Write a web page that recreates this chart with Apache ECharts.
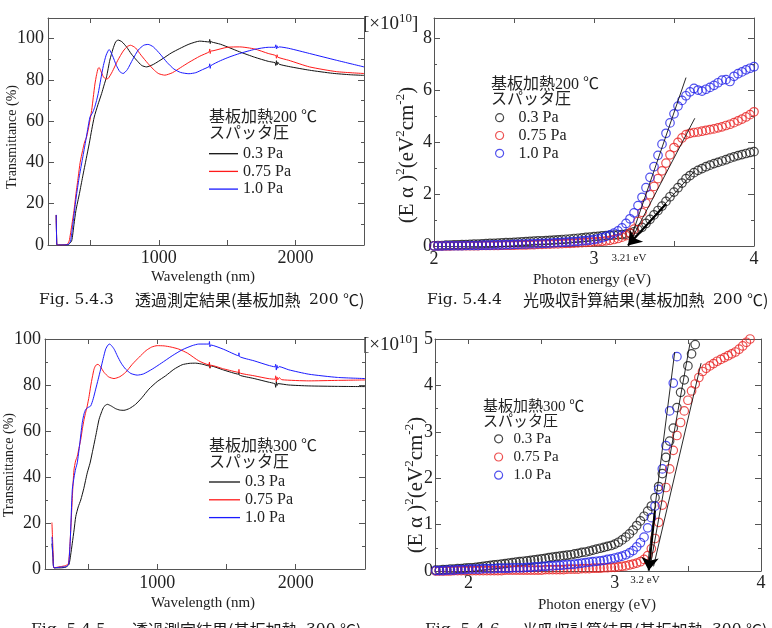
<!DOCTYPE html>
<html><head><meta charset="utf-8">
<script src="https://cdn.jsdelivr.net/npm/echarts@6/dist/echarts.min.js"></script>
<style>html,body{margin:0;padding:0;background:#fff}#c{width:772px;height:628px}</style>
</head><body><div id="c"></div>
<script>
// ---------------- DATA ----------------
// Fig 5.4.3 : transmittance, substrate 200 C  [wavelength nm, T %]
const t200_03 = [[250,14.5],[254,0.5],[258,0],[300,0],[340,0.3],[363,2],[380,10],[394,16.7],[420,25],[443,33],[470,42],[491,49],[510,56],[528,62],[555,68],[582,73.4],[600,77.5],[618,81.5],[642,89.6],[665,95],[685,98.5],[703,99.3],[730,98.5],[764,96],[800,92.5],[837,89.6],[875,87],[910,86.3],[960,87.5],[1031,90.4],[1090,93],[1153,95.2],[1220,97.3],[1299,98.8],[1368,98.4],[1372,99.6],[1376,97.6],[1380,98.8],[1385,98.4],[1450,97.3],[1520,95.5],[1591,93.6],[1700,91],[1800,89],[1850,88.3],[1855,87],[1860,89.3],[1865,87.3],[1870,88.6],[1880,87.6],[1950,86.5],[2102,84.7],[2270,83.2],[2400,82.5],[2500,82.2]];
const t200_075 = [[250,14.5],[254,0.5],[258,0],[300,0],[330,0.3],[345,2],[365,10],[380,16.7],[395,25],[411,33],[425,40],[443,45.8],[458,50],[472,52.3],[490,58],[509,65.2],[521,71.6],[533,78],[545,82.5],[556,85.5],[564,86],[575,84.5],[595,81.5],[612,80.5],[630,80.7],[660,84],[700,89.5],[740,94],[770,96.2],[793,96.8],[830,95.5],[870,92],[920,88],[970,84.5],[1000,83],[1044,82.3],[1100,83.5],[1160,86],[1220,88.5],[1300,91.5],[1368,93.6],[1372,95],[1376,92.8],[1380,94],[1396,94.1],[1500,95.8],[1591,96],[1700,95],[1800,92.8],[1855,91.8],[1860,90.5],[1865,92.2],[1870,91],[1950,89.5],[2102,86.3],[2300,84],[2500,83.1]];
const t200_10 = [[250,14.6],[254,0.5],[258,0],[300,0],[340,0.3],[355,2],[370,9],[384,16.7],[400,25],[418,32.9],[440,41],[462,49.1],[480,56],[497,62],[515,64],[530,66.5],[545,70],[557,73.4],[575,80],[595,87],[615,92],[637,94.7],[660,92],[690,87],[715,84],[739,83.1],[770,85],[810,90],[850,94.5],[890,96.8],[922,97.2],[960,96],[1010,92.5],[1060,88.5],[1110,85.3],[1160,83.6],[1220,83],[1270,83.5],[1320,85],[1368,86.5],[1372,87.8],[1376,85.6],[1380,86.9],[1450,89.3],[1520,91.2],[1591,92.8],[1700,94.8],[1800,95.8],[1850,95.8],[1855,97],[1860,95],[1865,96.5],[1870,95.5],[1880,96],[1950,95.3],[2102,92.8],[2300,89.5],[2500,86.3]];

// Fig 5.4.5 : transmittance, substrate 300 C
const t300_03 = [[240,11],[248,5],[255,0.5],[300,0.5],[340,0.8],[363,2],[375,6],[387,11.2],[400,17],[412,22.8],[430,27],[448,30],[470,35],[495,41.8],[515,46],[531,50.5],[556,57.8],[580,65],[600,68.5],[616,70.6],[640,71.6],[670,70.8],[700,69.7],[730,69.1],[760,69],[800,69.8],[844,71.6],[890,74.5],[940,78.2],[1000,81.5],[1061,84],[1120,86.8],[1180,88.8],[1230,89.4],[1277,89.5],[1330,89],[1373,88.3],[1377,89.5],[1381,87.3],[1385,88.3],[1480,86.5],[1588,84.7],[1590,85.6],[1593,84.3],[1700,82.8],[1800,81.3],[1850,80.5],[1855,79],[1860,81.5],[1865,79.8],[1870,80.6],[1950,80],[2094,79.6],[2300,79.4],[2500,79.3]];
const t300_075 = [[240,20.2],[248,8],[255,0.5],[300,1],[340,1.5],[360,2.5],[376,17],[388,32],[399,43],[411,47],[423,49],[435,52.5],[448,56.3],[460,61],[472,65],[484,68.2],[495,70.9],[508,75],[520,79.6],[532,83.5],[544,86.9],[556,88.5],[572,89],[590,88],[616,85.5],[650,83.5],[688,82.8],[730,83.6],[772,85.5],[820,89],[868,92],[920,95],[960,96.5],[1000,97.1],[1050,97],[1100,96.5],[1156,95.6],[1220,93.8],[1300,90.5],[1373,88.8],[1377,90],[1381,87.5],[1385,88.6],[1480,87],[1588,85.5],[1590,86.8],[1593,85.3],[1700,84],[1800,82.8],[1850,82.5],[1855,84],[1860,81.5],[1865,83.5],[1870,82.2],[1880,83.2],[1900,82.3],[2094,81.8],[2300,82],[2500,82.2]];
const t300_10 = [[240,14],[248,5],[255,0.5],[300,0.8],[340,1],[360,2],[372,12],[387,34.5],[400,40],[411,43.5],[423,46.2],[440,54],[459,63.6],[472,67.5],[484,69.4],[500,70.2],[520,70.9],[538,74],[556,78.2],[574,82.5],[592,86.9],[610,91.5],[628,95.6],[645,97.4],[657,97.8],[672,97],[690,95.5],[712,92.7],[740,89.5],[772,86.9],[810,85],[856,84.3],[900,84.8],[964,86.9],[1030,89.5],[1108,92.7],[1180,95.3],[1252,97.1],[1300,97.8],[1373,97.8],[1377,98.9],[1381,96.6],[1385,97.4],[1480,95.5],[1588,92.7],[1590,94],[1593,92.4],[1700,90.5],[1800,88.6],[1850,87.9],[1855,89],[1860,86.5],[1865,88.5],[1870,87.3],[1880,88],[1950,86.6],[2094,84.7],[2300,83.3],[2500,82.8]];

// Fig 5.4.4 : (E alpha)^2 [x1e10], substrate 200 C
const e200 = [2,2.025,2.05,2.075,2.1,2.125,2.15,2.175,2.2,2.225,2.25,2.275,2.3,2.325,2.35,2.375,2.4,2.425,2.45,2.475,2.5,2.525,2.55,2.575,2.6,2.625,2.65,2.675,2.7,2.725,2.75,2.775,2.8,2.825,2.85,2.875,2.9,2.925,2.95,2.975,3,3.025,3.05,3.075,3.1,3.125,3.15,3.175,3.2,3.225,3.25,3.275,3.3,3.325,3.35,3.375,3.4,3.425,3.45,3.475,3.5,3.525,3.55,3.575,3.6,3.625,3.65,3.675,3.7,3.725,3.75,3.775,3.8,3.825,3.85,3.875,3.9,3.925,3.95,3.975,4];
const a200_03 = [0.01,0.02,0.02,0.03,0.03,0.04,0.04,0.05,0.05,0.06,0.07,0.07,0.08,0.09,0.1,0.1,0.11,0.12,0.13,0.13,0.14,0.15,0.16,0.17,0.18,0.19,0.2,0.2,0.21,0.22,0.23,0.24,0.25,0.26,0.27,0.29,0.3,0.31,0.33,0.34,0.36,0.37,0.39,0.4,0.41,0.42,0.43,0.44,0.46,0.5,0.55,0.63,0.72,0.87,1.03,1.2,1.37,1.54,1.72,1.9,2.08,2.25,2.43,2.6,2.72,2.83,2.92,2.99,3.06,3.12,3.18,3.23,3.28,3.33,3.39,3.44,3.49,3.53,3.57,3.61,3.64];
const a200_075 = [0,0,0,0,0,0.01,0.01,0.01,0.01,0.01,0.01,0.01,0.02,0.02,0.02,0.02,0.02,0.03,0.03,0.03,0.03,0.04,0.04,0.04,0.05,0.05,0.06,0.06,0.07,0.07,0.08,0.08,0.09,0.1,0.1,0.11,0.12,0.13,0.14,0.15,0.16,0.17,0.18,0.2,0.22,0.25,0.29,0.34,0.4,0.5,0.65,0.95,1.3,1.65,1.98,2.3,2.6,2.9,3.2,3.52,3.8,4.0,4.17,4.3,4.35,4.38,4.4,4.43,4.46,4.49,4.52,4.56,4.6,4.65,4.7,4.76,4.83,4.9,4.98,5.07,5.18];
const a200_10 = [0,0,0,0.01,0.01,0.01,0.01,0.01,0.02,0.02,0.02,0.02,0.03,0.03,0.03,0.04,0.04,0.04,0.05,0.05,0.06,0.06,0.07,0.07,0.08,0.08,0.09,0.1,0.1,0.11,0.12,0.13,0.14,0.15,0.16,0.17,0.18,0.2,0.21,0.23,0.25,0.28,0.32,0.37,0.43,0.5,0.58,0.7,0.87,1.05,1.28,1.56,1.88,2.25,2.65,3.06,3.5,3.93,4.35,4.75,5.1,5.4,5.62,5.8,5.95,6.08,6.02,5.98,6.05,6.12,6.2,6.3,6.4,6.42,6.35,6.55,6.65,6.72,6.8,6.86,6.92];
const tan200 = [[[3.575,6.5],[3.225,0.2]],[[3.63,4.93],[3.225,0.15]],[[3.63,2.9],[3.215,0.05]]];
const arrow200 = [[3.45,1.62],[3.212,0.02]];

// Fig 5.4.6 : (E alpha)^2 [x1e10], substrate 300 C
const e300 = [1.775,1.8,1.825,1.85,1.875,1.9,1.925,1.95,1.975,2,2.025,2.05,2.075,2.1,2.125,2.15,2.175,2.2,2.225,2.25,2.275,2.3,2.325,2.35,2.375,2.4,2.425,2.45,2.475,2.5,2.525,2.55,2.575,2.6,2.625,2.65,2.675,2.7,2.725,2.75,2.775,2.8,2.825,2.85,2.875,2.9,2.925,2.95,2.975,3,3.025,3.05,3.075,3.1,3.125,3.15,3.175,3.2,3.225,3.25,3.275,3.3,3.325,3.35,3.375,3.4,3.425,3.45,3.475,3.5,3.525,3.55,3.575,3.6,3.625,3.65,3.675,3.7,3.725,3.75,3.775,3.8,3.825,3.85,3.875,3.9,3.925];
const a300_03 = [0.02,0.02,0.03,0.03,0.04,0.04,0.05,0.05,0.06,0.07,0.07,0.08,0.09,0.1,0.11,0.12,0.13,0.14,0.15,0.16,0.17,0.18,0.19,0.2,0.21,0.22,0.23,0.24,0.25,0.26,0.27,0.29,0.3,0.31,0.32,0.33,0.34,0.35,0.37,0.38,0.4,0.41,0.43,0.45,0.47,0.49,0.51,0.53,0.55,0.58,0.62,0.67,0.73,0.8,0.88,0.98,1.08,1.18,1.29,1.4,1.58,1.82,2.1,2.45,2.8,3.08,3.52,3.85,4.12,4.42,4.68,4.88];
const a300_075 = [0,0,0,0,0,0.01,0.01,0.01,0.01,0.01,0.01,0.01,0.01,0.01,0.01,0.01,0.01,0.01,0.01,0.02,0.02,0.02,0.02,0.02,0.02,0.02,0.02,0.02,0.02,0.02,0.03,0.03,0.03,0.03,0.03,0.03,0.04,0.04,0.04,0.04,0.05,0.05,0.05,0.06,0.06,0.06,0.07,0.07,0.08,0.08,0.09,0.1,0.11,0.13,0.15,0.17,0.2,0.25,0.33,0.48,0.7,1.05,1.42,1.8,2.2,2.6,2.92,3.2,3.45,3.68,3.88,4.03,4.17,4.3,4.37,4.42,4.47,4.52,4.56,4.6,4.64,4.68,4.72,4.78,4.85,4.93,5.0];
const a300_10 = [0.01,0.01,0.01,0.02,0.02,0.02,0.03,0.03,0.03,0.04,0.04,0.04,0.04,0.05,0.05,0.05,0.05,0.06,0.06,0.06,0.06,0.07,0.07,0.07,0.07,0.08,0.08,0.09,0.09,0.1,0.1,0.11,0.11,0.12,0.12,0.13,0.14,0.14,0.15,0.16,0.17,0.18,0.19,0.2,0.21,0.22,0.23,0.25,0.26,0.28,0.3,0.32,0.35,0.39,0.44,0.52,0.61,0.73,0.93,1.15,1.4,1.76,2.2,2.7,3.45,4.05,4.62];
const tan300 = [[[3.41,4.72],[3.225,0.15]],[[3.515,4.92],[3.245,0.15]],[[3.59,4.48],[3.265,0.1]]];
const arrow300 = [[3.275,1.3],[3.232,0.01]];

// axis ticks / labels
const wlTicks = [500,1000,1500,2000], wlLabels = [1000,2000];
const tMajor = [0,20,40,60,80,100], tMinor = [10,30,50,70,90];
const eTicks = [2,2.5,3,3.5,4], eLabels = [2,3,4];
const a200Major = [0,2,4,6,8], a200Minor = [1,3,5,7];
const a300Major = [0,1,2,3,4,5], a300Minor = [0.5,1.5,2.5,3.5,4.5];
const pNames = ['0.3 Pa','0.75 Pa','1.0 Pa'];

// ---------------- STYLE / BUILD ----------------
const SERIF = "'Liberation Serif','Times New Roman',serif";
const MIX = "'Liberation Serif','Noto Sans CJK JP',serif";
const CAPL = "'DejaVu Serif',serif";
const CAPJ = "'Noto Sans CJK JP',sans-serif";
const AX = '#555';
const COLS_L = ['#111111','#ff1a1a','#1a1aff'];
const COLS_S = ['#1a1a1a','#e82424','#2424e8'];
const fmt = v => String(v);

const xAxes = [], yAxes = [];
function addX(gi, min, max, ticks, labels, margin) {
  ['bottom','top'].forEach((pos, k) => {
    xAxes.push({type:'value', gridIndex:gi, position:pos, min, max, splitLine:{show:false},
      axisLine:{show:true, onZero:false, lineStyle:{color:AX, width:1}},
      axisTick:{show:true, inside:true, length:5, customValues:ticks, lineStyle:{color:AX}},
      axisLabel:{show:k===0, customValues:labels, margin, formatter:fmt, fontFamily:SERIF, fontSize:18, color:'#222', hideOverlap:false}});
  });
}
function addY(gi, min, max, major, minor, labels, margin) {
  ['left','right'].forEach((pos, k) => {
    yAxes.push({type:'value', gridIndex:gi, position:pos, min, max, splitLine:{show:false},
      axisLine:{show:true, onZero:false, lineStyle:{color:AX, width:1}},
      axisTick:{show:true, inside:true, length:6, customValues:major, lineStyle:{color:AX}},
      axisLabel:{show:k===0, customValues:labels, margin, formatter:fmt, fontFamily:SERIF, fontSize:18, color:'#222', hideOverlap:false}});
  });
  ['left','right'].forEach(pos => {
    yAxes.push({type:'value', gridIndex:gi, position:pos, min, max, splitLine:{show:false},
      axisLine:{show:false, onZero:false},
      axisTick:{show:true, inside:true, length:3, customValues:minor, lineStyle:{color:AX}},
      axisLabel:{show:false}});
  });
}
// grids: 0 TL, 1 TR, 2 BL, 3 BR
addX(0, 190, 2500, wlTicks, wlLabels, 4);  addY(0, 0, 110, tMajor, tMinor, tMajor, 4);
addX(1, 2, 4, eTicks, eLabels, 4);          addY(1, 0, 8.8, a200Major, a200Minor, a200Major, 2);
addX(2, 190, 2500, wlTicks, wlLabels, 5);  addY(2, 0, 100, tMajor, tMinor, tMajor, 4);
addX(3, 1.77, 4, eTicks, eLabels, 3);       addY(3, 0, 5, a300Major, a300Minor, a300Major, 2);

const series = [];
const nameMap = {};
function lineS(id, label, data, color, gi) {
  nameMap[id] = label;
  series.push({type:'line', name:id, data, xAxisIndex:gi*2, yAxisIndex:gi*4, symbol:'none', showSymbol:false,
    smooth:0.2, lineStyle:{color, width:1}, itemStyle:{color}, z:3});
}
function scatS(id, label, xs, ys, color, gi) {
  nameMap[id] = label;
  series.push({type:'scatter', name:id, data: ys.map((v,i)=>[xs[i], v]), xAxisIndex:gi*2, yAxisIndex:gi*4,
    symbol:'circle', symbolSize:8.5, itemStyle:{color:'rgba(255,255,255,0)', borderColor:color, borderWidth:1.2}, z:3});
}
[t200_03, t200_075, t200_10].forEach((d,i)=>lineS('a'+i, pNames[i], d, COLS_L[i], 0));
[a200_03, a200_075, a200_10].forEach((d,i)=>scatS('b'+i, pNames[i], e200, d, COLS_S[i], 1));
[t300_03, t300_075, t300_10].forEach((d,i)=>lineS('c'+i, pNames[i], d, COLS_L[i], 2));
[a300_03, a300_075, a300_10].forEach((d,i)=>scatS('d'+i, pNames[i], e300, d, COLS_S[i], 3));

function tangents(list, arrow, gi) {
  list.forEach(seg => {
    series.push({type:'line', data:seg, xAxisIndex:gi*2, yAxisIndex:gi*4, symbol:'none', silent:true,
      lineStyle:{color:'#111', width:0.9}, z:5});
  });
  series.push({type:'lines', coordinateSystem:'cartesian2d', xAxisIndex:gi*2, yAxisIndex:gi*4, silent:true,
    symbol:['none','arrow'], symbolSize:[4,13], lineStyle:{color:'#000', width:2, opacity:1, curveness:0},
    itemStyle:{color:'#000'}, data:[{coords:arrow}], z:6});
}
tangents(tan200, arrow200, 1);
tangents(tan300, arrow300, 3);

function legend(prefix, left, top, gap, itemW, fs, isLine) {
  const o = {orient:'vertical', left, top, padding:0, itemGap:gap, itemWidth:itemW, itemHeight:isLine ? 1.3 : 8,
    data:[0,1,2].map(i=>prefix+i), formatter: n => nameMap[n], selectedMode:false,
    textStyle:{fontFamily:SERIF, fontSize:fs, color:'#222', lineHeight:14}};
  if (isLine) { o.icon = 'rect'; o.itemStyle = {borderWidth:0}; }
  else { o.icon = 'circle'; o.itemStyle = {borderWidth:1.2}; }
  return o;
}

function txt(text, x, y, fs, font, opts) {
  opts = opts || {};
  return Object.assign({type:'text', x, y, silent:true, style:Object.assign({text, fontSize:fs, fontFamily:font, fill:'#222',
    align:opts.align||'left', verticalAlign:'middle', textAlign:opts.align||'left', textVerticalAlign:'middle'}, opts.style||{})},
    opts.rotation ? {rotation:opts.rotation} : {});
}
function caption(y, parts) {  // parts: [x, text, isCJK]
  return parts.map(p => txt(p[1], p[0], y, p[2] ? 16 : 15.5, p[2] ? CAPJ : CAPL, {style:{fill:'#1a1a1a'}}));
}
const supRich = {s:{fontSize:13, fontFamily:SERIF, verticalAlign:'top', lineHeight:13, fill:'#222'}};
const yname = '(E α )' + '{s|2}' + '(eV{s|2}cm{s|-2})';
const mult = '[×10{s|10}]';
const R = Math.PI/2;
const graphics = [
  // top-left
  txt('Wavelength (nm)', 203, 277, 15, SERIF, {align:'center'}),
  txt('Transmittance (%)', 12, 137, 14, SERIF, {align:'center', rotation:R}),
  ...caption(300, [[39,'Fig. 5.4.3'],[135,'透過測定結果(基板加熱',1],[309,'200'],[343,'℃)',1]]),
  txt('基板加熱200 ℃', 209, 118, 16, MIX),
  txt('スパッタ圧', 209, 134, 16, MIX),
  txt(mult, 363, 24, 19, SERIF, {style:{rich:supRich, lineHeight:24}}),
  // top-right
  txt('Photon energy (eV)', 592, 280, 15, SERIF, {align:'center'}),
  txt(yname, 407, 155, 21, SERIF, {align:'center', rotation:R, style:{rich:supRich, lineHeight:26}}),
  ...caption(300, [[427,'Fig. 5.4.4'],[523,'光吸収計算結果(基板加熱',1],[713,'200'],[747,'℃)',1]]),
  txt('基板加熱200 ℃', 491, 85, 16, MIX),
  txt('スパッタ圧', 491, 100, 16, MIX),
  txt('3.21 eV', 629, 258, 11, SERIF, {align:'center'}),
  // bottom-left
  txt('Wavelength (nm)', 203, 603, 15, SERIF, {align:'center'}),
  txt('Transmittance (%)', 9, 465, 14, SERIF, {align:'center', rotation:R}),
  ...caption(630, [[31,'Fig. 5.4.5'],[132,'透過測定結果(基板加熱',1],[306,'300'],[340,'℃)',1]]),
  txt('基板加熱300 ℃', 209, 447, 16, MIX),
  txt('スパッタ圧', 209, 463, 16, MIX),
  txt(mult, 363, 345, 19, SERIF, {style:{rich:supRich, lineHeight:24}}),
  // bottom-right
  txt('Photon energy (eV)', 597, 605, 15, SERIF, {align:'center'}),
  txt(yname, 416, 485, 21, SERIF, {align:'center', rotation:R, style:{rich:supRich, lineHeight:26}}),
  ...caption(630, [[425,'Fig. 5.4.6'],[522,'光吸収計算結果(基板加熱',1],[712,'300'],[746,'℃)',1]]),
  txt('基板加熱300 ℃', 483, 407, 15, MIX),
  txt('スパッタ圧', 483, 422, 15, MIX),
  txt('3.2 eV', 645, 580, 11, SERIF, {align:'center'})
];

const chart = echarts.init(document.getElementById('c'), null, {renderer:'canvas'});
chart.setOption({
  animation:false,
  backgroundColor:'#fff',
  grid:[
    {left:48, top:18, width:316, height:227},
    {left:434, top:18, width:320, height:228},
    {left:45, top:339, width:320, height:230},
    {left:435, top:339, width:326, height:232}
  ],
  xAxis:xAxes, yAxis:yAxes,
  legend:[
    legend('a', 209, 145.7, 1.7, 29, 16, true),
    legend('b', 495, 109.7, 1.8, 28, 16, false),
    legend('c', 209, 474, 1.8, 31, 16, true),
    legend('d', 494, 431.3, 3.2, 20, 15, false)
  ],
  series, graphic:graphics
});
</script></body></html>
